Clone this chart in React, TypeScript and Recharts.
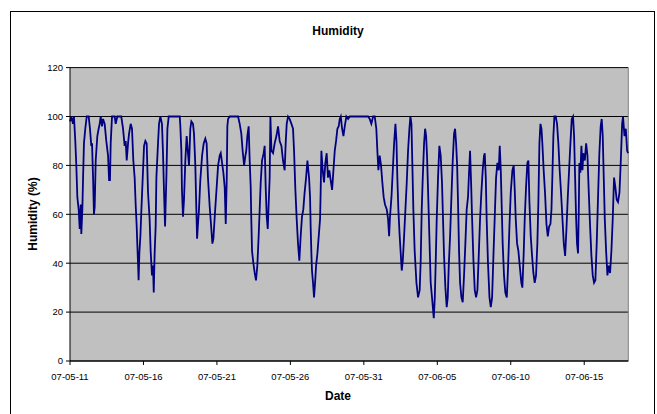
import { CartesianGrid, Line, LineChart, ReferenceLine, XAxis, YAxis } from "recharts";

// days since 07-05-11 00:00
const dayOffsets = [
  0, 0.09, 0.2, 0.27, 0.36, 0.43, 0.5, 0.59, 0.66, 0.73, 0.77, 0.84, 0.89, 0.95, 1.04, 1.14, 1.27, 1.36, 1.45, 1.5,
  1.57, 1.63, 1.68, 1.75, 1.86, 1.95, 2.02, 2.09, 2.18, 2.25, 2.36, 2.47, 2.59, 2.66, 2.72, 2.77, 2.86, 3.04, 3.11, 3.22,
  3.49, 3.61, 3.72, 3.79, 3.86, 3.95, 4.02, 4.13, 4.22, 4.31, 4.4, 4.47, 4.54, 4.58, 4.63, 4.67, 4.72, 4.79, 4.86, 4.95,
  5.04, 5.13, 5.22, 5.31, 5.42, 5.49, 5.58, 5.65, 5.7, 5.76, 5.83, 5.88, 5.99, 6.06, 6.15, 6.26, 6.33, 6.4, 6.47, 6.56,
  6.63, 6.72, 7.47, 7.51, 7.58, 7.62, 7.69, 7.76, 7.85, 7.94, 8.03, 8.1, 8.19, 8.26, 8.37, 8.44, 8.53, 8.6, 8.65, 8.71,
  8.78, 8.87, 8.99, 9.1, 9.21, 9.3, 9.39, 9.51, 9.62, 9.69, 9.76, 9.85, 9.96, 10.08, 10.19, 10.26, 10.35, 10.44, 10.53, 10.6,
  10.67, 10.71, 10.76, 10.87, 11.44, 11.55, 11.66, 11.75, 11.85, 11.94, 12.0, 12.07, 12.16, 12.23, 12.3, 12.34, 12.39, 12.48, 12.57, 12.66,
  12.75, 12.84, 12.91, 12.98, 13.07, 13.18, 13.25, 13.32, 13.39, 13.46, 13.52, 13.59, 13.64, 13.71, 13.82, 13.93, 14.05, 14.16, 14.27, 14.39,
  14.5, 14.61, 14.68, 14.75, 14.84, 14.95, 15.07, 15.18, 15.25, 15.34, 15.43, 15.52, 15.61, 15.7, 15.79, 15.88, 15.97, 16.07, 16.16, 16.27,
  16.34, 16.38, 16.43, 16.47, 16.54, 16.61, 16.68, 16.75, 16.84, 16.93, 17.02, 17.06, 17.11, 17.2, 17.29, 17.38, 17.47, 17.56, 17.65, 17.74,
  17.84, 17.93, 18.02, 18.11, 18.2, 18.29, 18.36, 18.43, 18.52, 18.61, 18.7, 18.81, 18.93, 19.04, 20.29, 20.4, 20.51, 20.63, 20.74, 20.85,
  20.92, 20.99, 21.08, 21.17, 21.26, 21.35, 21.44, 21.56, 21.65, 21.72, 21.78, 21.88, 21.97, 22.06, 22.15, 22.22, 22.28, 22.35, 22.44, 22.51,
  22.58, 22.65, 22.74, 22.83, 22.92, 23.01, 23.1, 23.17, 23.24, 23.3, 23.37, 23.46, 23.58, 23.69, 23.8, 23.87, 23.94, 24.01, 24.1, 24.17,
  24.24, 24.3, 24.37, 24.46, 24.55, 24.64, 24.71, 24.76, 24.83, 24.89, 24.96, 25.05, 25.14, 25.23, 25.32, 25.39, 25.46, 25.55, 25.64, 25.71,
  25.78, 25.87, 25.96, 26.05, 26.14, 26.21, 26.28, 26.35, 26.41, 26.48, 26.55, 26.64, 26.73, 26.82, 26.91, 27.0, 27.09, 27.16, 27.23, 27.3,
  27.37, 27.46, 27.55, 27.64, 27.73, 27.82, 27.91, 28.0, 28.09, 28.18, 28.23, 28.3, 28.36, 28.45, 28.55, 28.64, 28.73, 28.82, 28.91, 29.0,
  29.09, 29.18, 29.25, 29.32, 29.39, 29.45, 29.54, 29.63, 29.73, 29.82, 29.91, 30.0, 30.11, 30.2, 30.27, 30.34, 30.43, 30.52, 30.61, 30.72,
  30.79, 30.88, 30.95, 31.04, 31.13, 31.2, 31.27, 31.36, 31.45, 31.54, 31.63, 31.72, 31.81, 31.88, 31.95, 32.02, 32.09, 32.15, 32.24, 32.33,
  32.43, 32.52, 32.61, 32.7, 32.77, 32.83, 32.9, 32.97, 33.06, 33.15, 33.24, 33.33, 33.42, 33.52, 33.61, 33.7, 33.79, 33.88, 33.97, 34.06,
  34.15, 34.24, 34.31, 34.38, 34.45, 34.51, 34.58, 34.63, 34.67, 34.74, 34.81, 34.88, 34.94, 35.04, 35.13, 35.22, 35.31, 35.4, 35.49, 35.58,
  35.67, 35.76, 35.85, 35.94, 36.03, 36.12, 36.19, 36.26, 36.33, 36.4, 36.49, 36.58, 36.67, 36.76, 36.85, 36.94, 37.03, 37.12, 37.21, 37.3,
  37.4, 37.49, 37.58, 37.64, 37.74, 37.83, 37.92, 37.99,
];

const humidity = [
  98, 100, 97, 100, 90, 80, 67, 62, 54, 64, 52, 62, 75, 89, 95, 100, 100, 95, 88, 89,
  75, 60, 63, 82, 92, 95, 97, 100, 96, 99, 97, 90, 84, 74, 74, 89, 100, 100, 97, 100,
  100, 95, 88, 90, 82, 89, 93, 97, 95, 82, 75, 64, 55, 48, 40, 33, 44, 51, 62, 75,
  88, 90, 89, 69, 58, 45, 35, 39, 28, 44, 55, 75, 89, 97, 100, 97, 85, 69, 55, 75,
  95, 100, 100, 96, 86, 70, 59, 66, 82, 92, 85, 80, 95, 98, 97, 93, 80, 62, 50, 56,
  62, 74, 84, 89, 91, 89, 75, 63, 54, 48, 50, 59, 69, 80, 84, 85, 81, 77, 71, 56,
  75, 96, 99, 100, 100, 97, 93, 86, 80, 84, 86, 92, 96, 82, 71, 58, 45, 40, 36, 33,
  39, 51, 62, 73, 82, 85, 88, 71, 59, 54, 64, 75, 100, 86, 85, 89, 92, 96, 90, 88,
  82, 78, 89, 97, 100, 99, 97, 95, 86, 70, 58, 48, 41, 51, 59, 62, 69, 75, 82, 75,
  67, 55, 44, 37, 32, 26, 32, 39, 44, 51, 58, 69, 86, 78, 73, 81, 85, 75, 78, 74,
  70, 78, 86, 90, 95, 96, 99, 100, 95, 92, 96, 100, 99, 100, 100, 99, 97, 100, 100, 95,
  86, 78, 84, 80, 73, 67, 64, 62, 58, 51, 59, 67, 78, 89, 97, 90, 75, 62, 51, 44,
  37, 41, 51, 62, 73, 86, 95, 100, 97, 81, 62, 45, 32, 26, 29, 41, 62, 75, 89, 95,
  92, 84, 70, 51, 32, 26, 21, 17.5, 26, 40, 58, 75, 88, 84, 73, 58, 43, 30, 22, 26,
  39, 51, 67, 82, 93, 95, 89, 80, 65, 45, 32, 26, 24, 35, 48, 62, 67, 77, 86, 73,
  58, 41, 29, 26, 29, 43, 58, 69, 78, 84, 85, 75, 58, 40, 26, 22, 26, 43, 59, 75,
  81, 78, 88, 78, 62, 48, 35, 28, 26, 39, 55, 69, 78, 80, 70, 58, 48, 45, 39, 32,
  30, 44, 58, 71, 81, 82, 65, 51, 43, 36, 32, 35, 48, 65, 89, 97, 95, 89, 78, 69,
  56, 51, 55, 56, 62, 75, 92, 100, 100, 97, 89, 78, 69, 58, 48, 43, 54, 67, 78, 89,
  99, 100, 92, 75, 58, 48, 44, 62, 81, 77, 88, 78, 85, 82, 89, 84, 69, 55, 43, 35,
  32, 33, 48, 67, 85, 96, 99, 92, 75, 58, 45, 35, 39, 36, 45, 58, 75, 71, 66, 65,
  69, 82, 97, 100, 92, 95, 86, 85,
];

const tickDays = [0, 5, 10, 15, 20, 25, 30, 35];
const tickLabels = ["07-05-11", "07-05-16", "07-05-21", "07-05-26", "07-05-31", "07-06-05", "07-06-10", "07-06-15"];
const yTicks = [0, 20, 40, 60, 80, 100, 120];

const data = dayOffsets.map((d, i) => ({ day: d, humidity: humidity[i] }));

const font = "'Liberation Sans', Arial, sans-serif";
const tickStyle = { fontSize: 9.5, fill: "#000", fontFamily: font };

export default function App() {
  return (
    <div style={{ position: "absolute", left: 0, top: 0, width: 657, height: 414, background: "#fff", overflow: "hidden" }}>
      <div
        style={{
          position: "absolute", left: 10, top: 11, width: 645, height: 420,
          border: "1px solid #000", boxSizing: "border-box",
        }}
      />
      <div style={{ position: "absolute", left: 338, top: 31, transform: "translate(-50%, -50%)", fontFamily: font, fontWeight: "bold", fontSize: 12 }}>
        Humidity
      </div>
      <div style={{ position: "absolute", left: 338, top: 396, transform: "translate(-50%, -50%)", fontFamily: font, fontWeight: "bold", fontSize: 12 }}>
        Date
      </div>
      <div
        style={{
          position: "absolute", left: 33, top: 214, transform: "translate(-50%, -50%) rotate(-90deg)",
          fontFamily: font, fontWeight: "bold", fontSize: 12, whiteSpace: "nowrap",
        }}
      >
        Humidity (%)
      </div>
      <div style={{ position: "absolute", left: 0, top: 0 }}>
        <LineChart width={657} height={414} data={data} margin={{ top: 67.6, right: 28.7, bottom: 23, left: 40 }}>
          <CartesianGrid vertical={false} stroke="#000" fill="#C0C0C0" fillOpacity={1} />
          <XAxis
            dataKey="day"
            type="number"
            domain={[0, 38]}
            ticks={tickDays}
            tickFormatter={(v: number) => tickLabels[tickDays.indexOf(v)]}
            height={30}
            tick={tickStyle}
            tickSize={4}
            tickMargin={8}
            stroke="#000"
            interval={0}
          />
          <YAxis
            domain={[0, 120]}
            ticks={yTicks}
            width={30}
            tick={tickStyle}
            tickSize={4}
            tickMargin={3}
            stroke="#000"
            interval={0}
          />
          <ReferenceLine x={38} stroke="#808080" />
          <Line
            type="linear"
            dataKey="humidity"
            stroke="#000080"
            strokeWidth={1.8}
            dot={false}
            isAnimationActive={false}
          />
        </LineChart>
      </div>
    </div>
  );
}
